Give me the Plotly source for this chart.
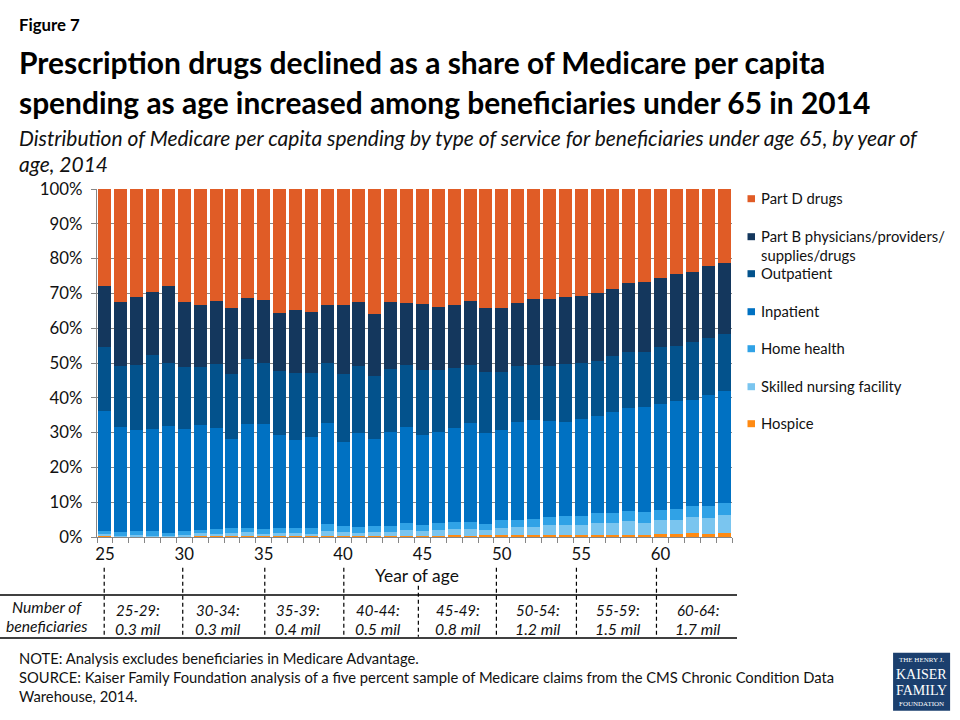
import plotly.graph_objects as go

# Shares of spending in percent, by year of age 25-64
ages = [str(a) for a in range(25, 65)]
hospice = [.4, .1, .1, .1, .1, .1, .4, .4, .4, .4, .4, .2, .4, .2, .4, .4, .2, .4, .4, .4,
           .3, .3, .5, .3, .5, .5, .5, .5, .5, .5, .5, .5, .5, .5, .5, 1, 1, 1.2, 1, 1.2]
snf = [.6, .3, .6, .3, .3, .6, .8, .6, .8, 1.1, .6, 1.0, .8, .8, 1.4, 1.1, 1.0, 1.1, 1.1, 1.7,
       1.5, 1.8, 1.9, 2.1, 1.6, 2.2, 2.5, 2.5, 3.0, 3.0, 3.0, 3.6, 3.6, 4.2, 3.6, 4.0, 4.0, 4.6, 4.6, 5.2]
home_health = [.8, 1.1, 1.1, 1.4, .8, 1.1, .9, 1.4, 1.5, 1.2, 1.4, 1.5, 1.5, 1.7, 2.0, 1.8, 1.8, 1.8, 1.8, 2.0,
               1.7, 2.0, 2.0, 2.0, 1.7, 2.3, 2.0, 2.3, 2.3, 2.6, 2.6, 2.9, 2.9, 2.9, 3.2, 2.9, 3.1, 3.2, 3.4, 3.5]
inpatient = [34.5, 30.2, 29.0, 29.3, 30.8, 29.3, 30.2, 29.0, 25.6, 29.9, 30.2, 26.7, 25.3, 26.1, 29.1, 24.1, 27.0, 25.0, 27.0, 27.6,
             25.9, 26.2, 27.0, 28.5, 26.2, 25.8, 28.1, 28.4, 27.6, 27.0, 27.9, 27.9, 29.0, 29.6, 30.2, 30.4, 31.1, 30.5, 31.9, 32.1]
outpatient = [18.4, 17.5, 18.7, 21.3, 18.1, 17.8, 16.6, 18.4, 18.6, 18.6, 17.5, 18.4, 19.2, 18.4, 17.2, 19.5, 19.2, 18.1, 18.1, 17.8,
              18.7, 17.8, 17.3, 16.6, 17.5, 16.7, 16.1, 15.8, 15.8, 16.7, 16.1, 15.8, 16.1, 16.1, 15.8, 16.4, 15.8, 16.4, 16.4, 16.4]
part_b = [17.5, 18.4, 19.6, 18.1, 22.1, 18.7, 17.9, 18.1, 19.0, 17.6, 18.1, 16.7, 18.1, 17.6, 16.7, 19.9, 18.4, 17.8, 19.2, 17.8,
          18.9, 18.1, 18.1, 18.4, 18.4, 18.4, 18.1, 19.0, 19.3, 19.3, 19.2, 19.5, 19.3, 19.8, 20.1, 19.8, 20.7, 20.3, 20.7, 20.4]
part_d = [27.8, 32.4, 30.9, 29.5, 27.8, 32.4, 33.2, 32.1, 34.1, 31.2, 31.8, 35.5, 34.7, 35.2, 33.2, 33.2, 32.4, 35.8, 32.4, 32.7,
          33.0, 33.8, 33.2, 32.1, 34.1, 34.1, 32.7, 31.5, 31.5, 30.9, 30.7, 29.8, 28.6, 26.9, 26.6, 25.5, 24.3, 23.8, 22.0, 21.2]

age_groups = ['25-29:', '30-34:', '35-39:', '40-44:', '45-49:', '50-54:', '55-59:', '60-64:']
beneficiaries = ['0.3 mil', '0.3 mil', '0.4 mil', '0.5 mil', '0.8 mil', '1.2 mil', '1.5 mil', '1.7 mil']

# stacking order, bottom first
series = [('Hospice', hospice, '#FF8A12'),
          ('Skilled nursing facility', snf, '#7AC5EF'),
          ('Home health', home_health, '#30A2E6'),
          ('Inpatient', inpatient, '#0071C2'),
          ('Outpatient', outpatient, '#03528C'),
          ('Part B physicians/providers/<br>supplies/drugs', part_b, '#14375D'),
          ('Part D drugs', part_d, '#E05C26')]

FONT = 'Lato'
TEXT = '#111111'
# plot area in page pixels
L, R, T, B = 97.3, 732.0, 189.3, 537.3


def px(x):
    return (x - L) / (R - L)


def py(y):
    return (B - y) / (B - T)


fig = go.Figure()
for name, values, color in series:
    fig.add_trace(go.Bar(x=ages, y=values, name=name.replace('<br>', ' '), marker_color=color,
                         marker_line_width=0, showlegend=False))


def text(x, y, s, size=15, anchor='left', color=TEXT, family=FONT):
    fig.add_annotation(xref='paper', yref='paper', x=px(x), y=py(y), text=s, showarrow=False,
                       xanchor=anchor, yanchor='middle', align=anchor,
                       font=dict(family=family, size=size, color=color), borderpad=0, borderwidth=0)


def line(x0, y0, x1, y1, dash='solid', width=1.3):
    fig.add_shape(type='line', xref='paper', yref='paper', x0=px(x0), x1=px(x1), y0=py(y0), y1=py(y1),
                  line=dict(color='black', width=width, dash=dash))


# Headings
text(19, 25, '<b>Figure 7</b>', 16.8, color='black')
text(19, 62, '<b>Prescription drugs declined as a share of Medicare per capita</b>', 30, color='black')
text(19, 102, '<b>spending as age increased among beneficiaries under 65 in 2014</b>', 29.9, color='black')
text(19, 138, '<i>Distribution of Medicare per capita spending by type of service for beneficiaries under age 65, by year of</i>', 21)
text(19, 164, '<i>age, 2014</i>', 21)

# Legend
legend_y = [424, 387, 349, 312, 274, 237, 199]
for (name, values, color), y in zip(series, legend_y):
    fig.add_shape(type='rect', xref='paper', yref='paper', x0=px(747.5), x1=px(755), y0=py(y - 3.5), y1=py(y + 3.5),
                  fillcolor=color, line_width=0)
    parts = name.split('<br>')
    text(761, y - 0.6, parts[0], 14.8)
    if len(parts) > 1:
        text(761, y + 18.4, parts[1], 14.8)

text(417, 576, 'Year of age', 17.4, anchor='center')

# Table under the axis
for x, y0 in zip([104.5, 183, 265, 344, 418.5, 496.5, 576.5, 656.5], [568, 568, 568, 568, 586, 568, 568, 568]):
    line(x, y0, x, 637, dash='4px,3px', width=1.2)
line(0, 595.3, 737, 595.3)
line(0, 638.3, 737, 638.3)
text(47, 607, '<i>Number of</i>', 15.7, anchor='center')
text(47, 626, '<i>beneficiaries</i>', 15.7, anchor='center')
for x, group, count in zip([138, 218, 298, 378, 458, 538.5, 618, 698], age_groups, beneficiaries):
    text(x, 610, f'<i>{group}</i>', 15, anchor='center')
    text(x, 629, f'<i>{count}</i>', 15.8, anchor='center')

# Notes
text(19.5, 658, 'NOTE: Analysis excludes beneficiaries in Medicare Advantage.', 14.75)
text(19.5, 677, 'SOURCE: Kaiser Family Foundation analysis of a five percent sample of Medicare claims from the CMS Chronic Condition Data', 14.75)
text(19.5, 696, 'Warehouse, 2014.', 14.75)

# Logo
fig.add_shape(type='rect', xref='paper', yref='paper', x0=px(893), x1=px(950), y0=py(653), y1=py(711),
              fillcolor='#1B3F6E', line_width=0)
text(921.5, 660, 'THE HENRY J.', 7, anchor='center', color='white', family='Liberation Serif')
text(921.5, 674.5, 'KAISER', 14, anchor='center', color='white', family='Liberation Serif')
text(921.5, 690.5, 'FAMILY', 14, anchor='center', color='white', family='Liberation Serif')
text(921.5, 704, 'FOUNDATION', 7, anchor='center', color='white', family='Liberation Serif')

fig.update_layout(
    width=960, height=720, autosize=False, barmode='stack', bargap=0.18,
    margin=dict(l=L, r=960 - R, t=T, b=720 - B, pad=0),
    paper_bgcolor='white', plot_bgcolor='white', showlegend=False,
    font=dict(family=FONT, size=16, color=TEXT),
)
fig.update_xaxes(type='category', tickmode='array', tickvals=ages,
                 ticktext=[a if int(a) % 5 == 0 else '' for a in ages],
                 tickson='boundaries', ticks='outside', ticklen=5, tickcolor='#868686', tickwidth=1,
                 showline=True, linecolor='#868686', linewidth=1.3, showgrid=False, tickangle=0,
                 ticklabelstandoff=2, tickfont=dict(family=FONT, size=16.8, color=TEXT))
fig.update_yaxes(range=[0, 100], tickmode='array', tickvals=list(range(0, 101, 10)),
                 ticktext=[f'{v}%' for v in range(0, 101, 10)],
                 ticks='outside', ticklen=5, tickcolor='#868686', tickwidth=1,
                 showline=True, linecolor='#868686', linewidth=1.3,
                 showgrid=True, gridcolor='#868686', gridwidth=1.2, zeroline=False,
                 ticklabelstandoff=5, tickfont=dict(family=FONT, size=16.8, color=TEXT))

fig.write_html('out.html', config={'displayModeBar': False},
               post_script="document.body.style.margin='0';")
